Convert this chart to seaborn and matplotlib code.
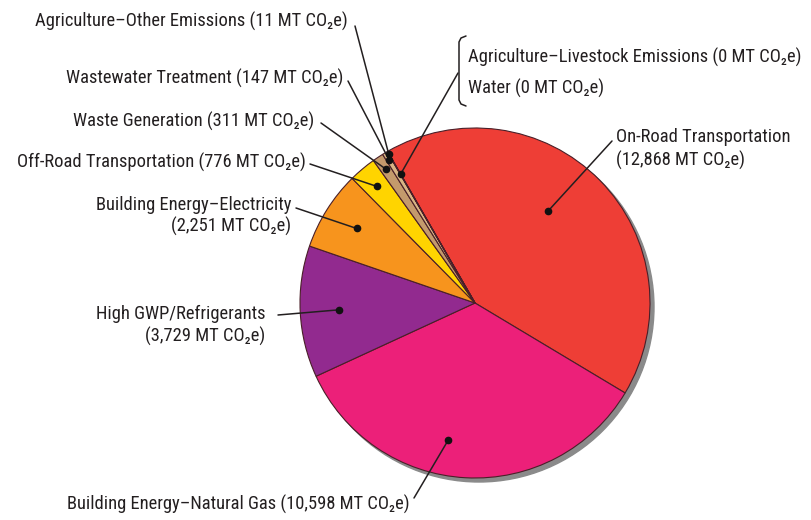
import numpy as np
import matplotlib
matplotlib.use("Agg")
import matplotlib.pyplot as plt
import seaborn as sns
from matplotlib.patches import Circle

sns.set_theme(style="white")
plt.rcParams['font.family'] = ['Roboto Condensed', 'Liberation Sans Narrow', 'DejaVu Sans Condensed',
                               'Roboto', 'DejaVu Sans']

# --- data (MT CO2e), in clockwise order starting with On-Road ---
sectors = ["On-Road Transportation", "Building Energy\u2013Natural Gas", "High GWP/Refrigerants",
           "Building Energy\u2013Electricity", "Off-Road Transportation", "Waste Generation",
           "Wastewater Treatment", "Agriculture\u2013Other Emissions",
           "Agriculture\u2013Livestock Emissions", "Water"]
emissions = [12868, 10598, 3729, 2251, 776, 311, 147, 11, 0, 0]
colors = ["#ee3e36", "#ec2079", "#922a8f", "#f7941d", "#ffd400", "#c49a6c",
          "#d8b585", "#8dc63f", "#b5d334", "#ffffff"]

W, H = 811, 520
CX, CY, R = 475, H - 303, 175
TXT = "#231f20"

fig = plt.figure(figsize=(W / 100, H / 100), dpi=100)
ax = fig.add_axes([0, 0, 1, 1])

# drop shadow
ax.add_patch(Circle((CX + 4, CY - 4), R, color="#8a8a8a", zorder=0))

wedges, _ = ax.pie(emissions, colors=colors, startangle=120, counterclock=False,
                   center=(CX, CY), radius=R,
                   wedgeprops=dict(edgecolor="#4a1f28", linewidth=0.8))
ax.set_xlim(0, W)
ax.set_ylim(0, H)
ax.set_aspect("equal")
ax.axis("off")


def co2(n):
    return f"({n:,} MT CO\u2082e)"


# pick a font size so the widest right-hand label fits like in the reference (468..805 px)
renderer = fig.canvas.get_renderer()
probe = ax.text(0, 0, sectors[8] + " " + co2(emissions[8]), fontsize=14)
FS = 14 * 335 / probe.get_window_extent(renderer).width
probe.remove()

# label: index, text lines, text anchor (px), ha, line spacing, line start (px), radius frac, angle shift
labels = [
    (0, ["On-Road Transportation", co2(emissions[0])], (616, 137), "left", 23, (612, 141), 0.67, 7),
    (1, [sectors[1] + " " + co2(emissions[1])], (410, 504), "right", 0, (414, 498), 0.8, -8),
    (2, ["High GWP/Refrigerants", co2(emissions[2])], (265, 314), "right", 22, (278, 315), 0.78, 0),
    (3, ["Building Energy\u2013Electricity", co2(emissions[3])], (291, 205), "right", 21, (296, 208), 0.8, 0),
    (4, [sectors[4] + " " + co2(emissions[4])], (306, 162), "right", 0, (310, 164), 0.87, 0),
    (5, [sectors[5] + " " + co2(emissions[5])], (314, 121), "right", 0, (321, 123), 0.92, 0),
    (6, [sectors[6] + " " + co2(emissions[6])], (343, 78), "right", 0, (348, 81), 0.95, 0),
    (7, [sectors[7] + " " + co2(emissions[7])], (348, 21), "right", 0, (355, 26), 0.985, 0),
]

theta = []
for w in wedges:
    theta.append((w.theta1 + w.theta2) / 2)


def draw_leader(start, idx, frac, shift=0):
    a = np.deg2rad(theta[idx] + shift)
    px = CX + frac * R * np.cos(a)
    py = CY + frac * R * np.sin(a)
    sx, sy = start[0], H - start[1]
    ax.plot([sx, px], [sy, py], color=TXT, lw=1.1, zorder=5)
    ax.plot(px, py, "o", color="#111111", ms=4.5, zorder=6)


for idx, lines, (tx, ty), ha, sp, start, frac, shift in labels:
    for k, line in enumerate(lines):
        ax.text(tx, H - (ty + k * sp), line, ha=ha, va="center", fontsize=FS, color=TXT)
    draw_leader(start, idx, frac, shift)

# bracketed zero-value sectors
ax.text(468, H - 57, sectors[8] + " " + co2(emissions[8]), ha="left", va="center",
        fontsize=FS, color=TXT)
ax.text(468, H - 88, sectors[9] + " " + co2(emissions[9]), ha="left", va="center",
        fontsize=FS, color=TXT)
bx = [466, 461, 459, 459, 461, 466]
by = [36, 38, 42, 100, 104, 106]
ax.plot(bx, [H - v for v in by], color=TXT, lw=1.1)
draw_leader((458, 73), 8, 0.85)

fig.savefig("out.png", dpi=100)
